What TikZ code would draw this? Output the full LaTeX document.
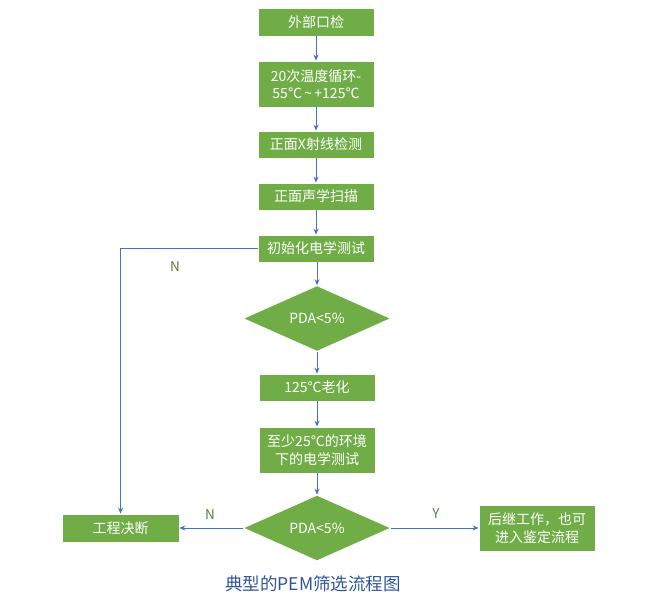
\documentclass[tikz,border=0pt]{standalone}
\usepackage{fontspec}
\usetikzlibrary{shapes.geometric,arrows.meta}
\setmainfont{Noto Sans CJK SC}
\definecolor{boxgreen}{HTML}{70AD47}
\definecolor{linkblue}{HTML}{4472C4}
\definecolor{labgreen}{HTML}{548235}
\definecolor{capblue}{HTML}{2F5597}
\begin{document}
\begin{tikzpicture}[x=1pt,y=-1pt,
  stepbox/.style={rectangle,fill=boxgreen,draw=white,line width=0.8pt,text=white,
    minimum width=116pt,inner sep=0pt,align=center,
    font=\fontsize{14}{17.5}\selectfont},
  decide/.style={diamond,fill=boxgreen,draw=white,line width=0.8pt,text=white,
    minimum width=148pt,minimum height=62pt,inner sep=0pt,
    font=\fontsize{14}{17}\selectfont},
  link/.style={draw=linkblue,line width=0.8pt,-{Stealth[length=6pt,width=5pt]}},
  yn/.style={text=labgreen,font=\fontsize{13.5}{16}\selectfont}]
\useasboundingbox (0,0) rectangle (650,600);
\node[stepbox,minimum height=28pt] (b1) at (316,22) {外部口检};
\node[stepbox,minimum height=46pt] (b2) at (316,84) {20次温度循环-\\55℃\,\textasciitilde\,+125℃};
\node[stepbox,minimum height=27pt] (b3) at (316,144.5) {正面X射线检测};
\node[stepbox,minimum height=27pt] (b4) at (316,196.5) {正面声学扫描};
\node[stepbox,minimum height=27pt] (b5) at (316,248.5) {初始化电学测试};
\node[decide] (d1) at (317,318.5) {PDA<5\%};
\node[stepbox,minimum height=27pt] (b6) at (317,387.5) {125℃老化};
\node[stepbox,minimum height=46pt] (b7) at (317,450) {至少25℃的环境\\下的电学测试};
\node[decide] (d2) at (317,528) {PDA<5\%};
\node[stepbox,minimum height=28pt,minimum width=117pt] (b8) at (120.5,528) {工程决断};
\node[stepbox,minimum height=46pt] (b9) at (537,528) {后继工作，也可\\进入鉴定流程};
\node[text=capblue,font=\fontsize{17.5}{20}\selectfont] (cap) at (313,584) {典型的PEM筛选流程图};
\coordinate (corner) at (b8.north |- b5.west);
\draw[link] (b1) -- (b2);
\draw[link] (b2) -- (b3);
\draw[link] (b3) -- (b4);
\draw[link] (b4) -- (b5);
\draw[link] (b5.south -| d1.north) -- (d1.north);
\draw[link] (d1) -- (b6);
\draw[link] (b6) -- (b7);
\draw[link] (b7.south -| d2.north) -- (d2.north);
\draw[link] (b5.west) -- (corner) -- (b8.north);
\draw[link] (d2.west) -- (b8.east);
\draw[link] (d2.east) -- (b9.west);
\node[yn] (n1) at (175,267) {N};
\node[yn] (n2) at (210,515) {N};
\node[yn] (y1) at (436,514) {Y};
\end{tikzpicture}
\end{document}
